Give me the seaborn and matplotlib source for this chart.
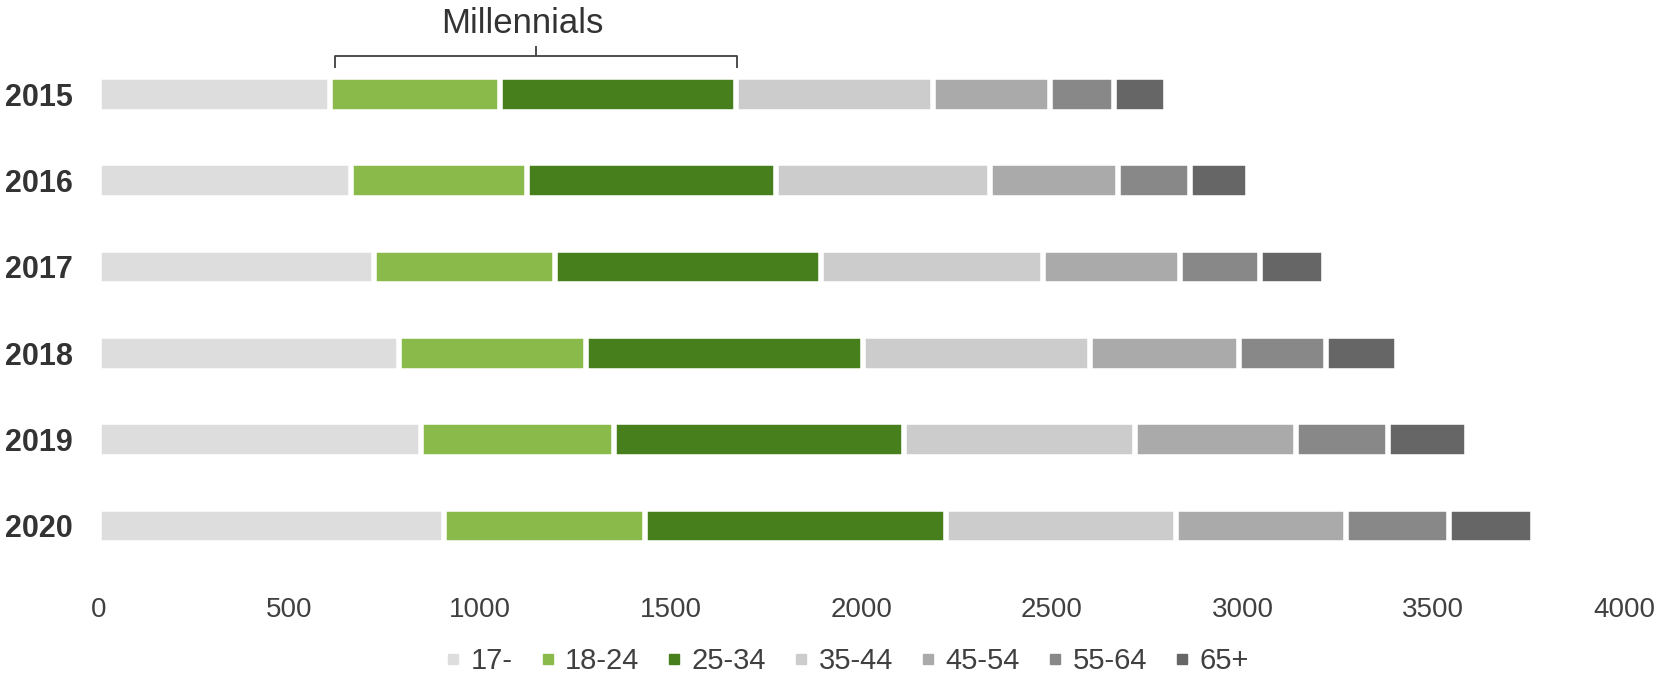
import matplotlib
matplotlib.use("Agg")
import matplotlib.pyplot as plt
from matplotlib.lines import Line2D
import pandas as pd
import seaborn as sns

# Population by age group (thousands), per year
years = ["2015", "2016", "2017", "2018", "2019", "2020"]
age_groups = ["17-", "18-24", "25-34", "35-44", "45-54", "55-64", "65+"]
age_17 = [607, 662, 722, 786, 844, 904]
age_18_24 = [445, 460, 475, 492, 506, 527]
age_25_34 = [620, 655, 697, 726, 762, 790]
age_35_44 = [516, 559, 581, 595, 606, 605]
age_45_54 = [307, 337, 361, 391, 422, 446]
age_55_64 = [167, 188, 209, 228, 242, 268]
age_65 = [138, 152, 167, 187, 206, 222]
x_ticks = [0, 500, 1000, 1500, 2000, 2500, 3000, 3500, 4000]

colors = ["#dddddd", "#8aba4a", "#467f1b", "#cccccc", "#aaaaaa", "#888888", "#666666"]

series = [age_17, age_18_24, age_25_34, age_35_44, age_45_54, age_55_64, age_65]

# cumulative end of each segment
df = pd.DataFrame({"year": years})
running = [0] * len(years)
for name, vals in zip(age_groups, series):
    running = [r + v for r, v in zip(running, vals)]
    df[name] = running

sns.set_theme(style="white")
plt.rcParams["font.family"] = ["Liberation Sans", "DejaVu Sans"]

fig = plt.figure(figsize=(16.63, 6.75), dpi=100)
ax = fig.add_axes([0.0595, 0.144, 0.917, 0.793])

# stacked bars drawn back-to-front from the cumulative totals
for name, col in reversed(list(zip(age_groups, colors))):
    sns.barplot(data=df, x=name, y="year", order=years, orient="h",
                color=col, saturation=1, width=0.4, edgecolor="white",
                linewidth=4, errorbar=None, ax=ax)

ax.set_xlim(0, 4000)
ax.set_ylim(len(years) - 0.4, -0.6)
ax.set_xticks(x_ticks)
ax.set_xticklabels([str(t) for t in x_ticks])
ax.set_xlabel("")
ax.set_ylabel("")
for s in ax.spines.values():
    s.set_visible(False)
ax.tick_params(axis="x", length=0, pad=14, labelsize=20, labelcolor="#404040")
ax.tick_params(axis="y", length=0, pad=19, labelsize=22, labelcolor="#333333")
for lbl in ax.get_yticklabels():
    lbl.set_fontweight("bold")

# bracket over the millennial segments of the first row
x_left = df["17-"][0] + 12
x_right = df["25-34"][0] + 2
y_bar = -0.44
y_foot = -0.31
y_stem = -0.56
br_kw = dict(color="#404040", lw=1.3, clip_on=False, solid_capstyle="butt")
ax.plot([x_left, x_left, x_right, x_right], [y_foot, y_bar, y_bar, y_foot], **br_kw)
x_mid = (x_left + x_right) / 2
ax.plot([x_mid, x_mid], [y_bar, y_stem], **br_kw)
ax.text(x_mid - 35, -0.82, "Millennials", ha="center", va="center",
        fontsize=25, color="#333333", clip_on=False)

handles = [Line2D([0], [0], marker="s", linestyle="none", markersize=7,
                  markerfacecolor=c, markeredgecolor=c) for c in colors]
fig.legend(handles, age_groups, loc="center", bbox_to_anchor=(0.51, 0.021),
           ncol=7, frameon=False, fontsize=21, handlelength=0.4,
           handletextpad=0.4, columnspacing=1.0, labelcolor="#404040",
           borderpad=0.1)

fig.savefig("out.png", dpi=100)
